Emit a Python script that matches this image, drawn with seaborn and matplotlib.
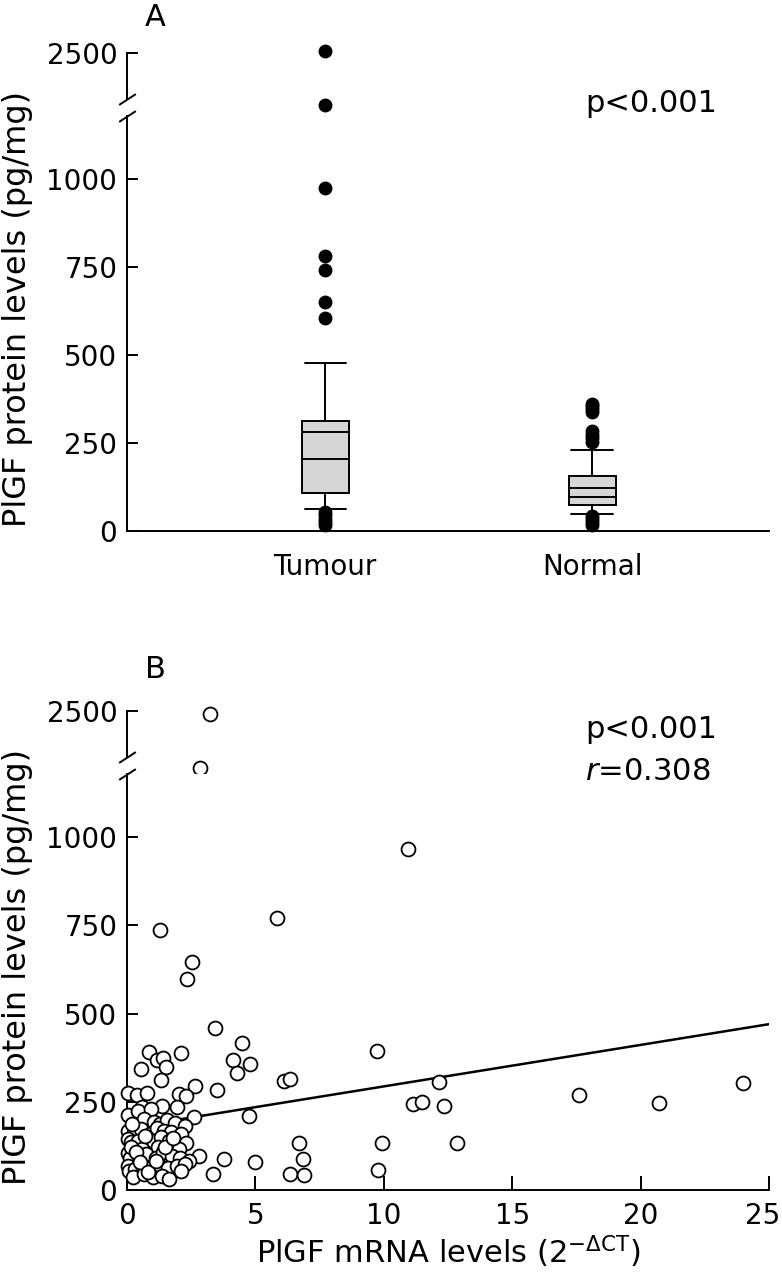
import numpy as np
import matplotlib.pyplot as plt
import matplotlib.transforms as mtransforms
import seaborn as sns

# ---- data ----
groups = ["Tumour", "Normal"]
box_q1 = [108, 74]
box_q3 = [312, 156]
box_med = [205, 97]
box_mean = [281, 122]
whisk_lo = [62, 48]
whisk_hi = [477, 230]
fliers_tumour = [2520, 2030, 974, 781, 741, 650, 605, 55, 45, 35, 25, 18]
fliers_normal = [362, 355, 347, 339, 283, 273, 263, 254, 42, 33, 25, 18]

mrna = [3.24, 2.85, 10.94, 1.29, 5.86, 2.54, 2.34, 3.44, 4.49, 4.14, 4.80, 4.30,
        0.86, 1.17, 1.41, 1.52, 0.55, 2.11, 1.33, 6.13, 6.33, 3.52, 2.66, 2.03,
        2.30, 0.02, 0.39, 0.78, 0.59, 1.37, 1.95, 0.05, 2.62, 4.77, 12.15, 11.13,
        11.48, 12.34, 9.73, 6.68, 6.84, 6.33, 6.91, 9.92, 9.77, 12.85, 5.00, 3.79,
        3.36, 2.81, 17.6, 20.7, 24.0,
        0.44, 0.93, 0.66, 1.05, 1.27, 1.57, 1.86, 2.25,
        0.03, 0.27, 0.55, 0.88, 1.18, 1.44, 1.72, 2.09,
        0.02, 0.14, 0.42, 0.79, 1.01, 1.33, 1.63, 1.92, 2.29, 0.59, 1.20, 2.03,
        0.03, 0.10, 0.46, 0.75, 1.11, 1.40, 1.76, 2.05, 2.42,
        0.02, 0.07, 0.33, 0.62, 0.98, 1.27, 1.59, 1.96, 2.25, 0.24, 0.66, 1.01, 1.37,
        0.16, 0.36, 0.50, 0.21, 0.82, 1.14, 1.49, 1.81, 2.12, 0.70, 1.62]
protein = [2473, 1987, 966, 737, 771, 646, 598, 459, 416, 368, 357, 331,
           391, 368, 374, 348, 343, 388, 312, 309, 314, 283, 295, 272,
           266, 275, 269, 275, 235, 238, 235, 212, 207, 210, 306, 244,
           249, 238, 394, 133, 88, 45, 42, 133, 57, 133, 79, 88,
           45, 96, 270, 246, 303,
           224, 229, 200, 192, 186, 197, 191, 181,
           168, 162, 173, 160, 177, 168, 163, 158,
           144, 135, 140, 130, 139, 149, 140, 129, 134, 116, 121, 115,
           106, 92, 97, 101, 91, 107, 96, 92, 82,
           68, 55, 59, 63, 64, 69, 63, 67, 74, 36, 44, 36, 40,
           121, 109, 80, 187, 52, 81, 123, 146, 54, 152, 30]

fit_x = [0, 25]
fit_y = [176, 470]

# ---- style ----
sns.set_style("ticks", {"axes.edgecolor": "black", "text.color": "black",
                        "xtick.color": "black", "ytick.color": "black",
                        "axes.labelcolor": "black"})
plt.rcParams["font.family"] = ["DejaVu Sans"]
plt.rcParams["mathtext.fontset"] = "dejavusans"
plt.rcParams["axes.linewidth"] = 1.4
FS = 20

W, H = 782, 1280
fig = plt.figure(figsize=(W / 100, H / 100), dpi=100)


def px_axes(left, top, right, bottom):
    return fig.add_axes([left / W, 1 - bottom / H, (right - left) / W, (bottom - top) / H])


LO_TOP = 1179          # top of lower segment
UP_LIM = (1933, 2662)  # compressed upper segment
UP_SPINE = (2086, 2500)
brk = dict(marker=[(-1, -0.65), (1, 0.65)], markersize=12, linestyle="none",
           color="black", mec="black", mew=1.4, clip_on=False)


def style_pair(ax_up, ax_lo):
    for ax in (ax_up, ax_lo):
        sns.despine(ax=ax)
        ax.tick_params(axis="y", direction="in", length=8, width=1.4, labelsize=FS, pad=7)
    ax_up.spines["bottom"].set_visible(False)
    ax_up.set_xticks([])
    ax_up.set_ylim(*UP_LIM)
    ax_up.set_yticks([2500])
    ax_up.spines["left"].set_bounds(*UP_SPINE)
    ax_lo.set_ylim(0, LO_TOP)
    ax_lo.set_yticks([0, 250, 500, 750, 1000])
    ax_lo.plot([0], [1], transform=ax_lo.transAxes, **brk)
    ax_up.plot([0], [UP_SPINE[0]], transform=ax_up.get_yaxis_transform(), **brk)
    ax_lo.set_ylabel("PlGF protein levels (pg/mg)", fontsize=23)
    ax_lo.yaxis.set_label_coords(-0.146, 0.535)


# ---- panel A ----
axA_up = px_axes(127, 35, 769, 116)
axA = px_axes(127, 116, 769, 531)
style_pair(axA_up, axA)

stats = []
for i, g in enumerate(groups):
    stats.append(dict(label=g, q1=box_q1[i], q3=box_q3[i], med=box_med[i],
                      mean=box_mean[i], whislo=whisk_lo[i], whishi=whisk_hi[i],
                      fliers=[]))
lw = 1.4
axA.bxp(stats, positions=[0, 1], widths=0.176, capwidths=0.154, showmeans=True,
        meanline=True, patch_artist=True, showfliers=False,
        boxprops=dict(facecolor="#d6d6d6", edgecolor="black", linewidth=lw),
        medianprops=dict(color="black", linewidth=lw),
        meanprops=dict(color="black", linestyle="-", linewidth=lw),
        whiskerprops=dict(color="black", linewidth=lw),
        capprops=dict(color="black", linewidth=lw))

fl_x = np.array([0] * len(fliers_tumour) + [1] * len(fliers_normal))
fl_y = np.array(fliers_tumour + fliers_normal)
hi = fl_y > LO_TOP
sns.scatterplot(x=fl_x[~hi], y=fl_y[~hi], ax=axA, color="black", s=100,
                edgecolor="black", linewidth=0, zorder=4, clip_on=False)
sns.scatterplot(x=fl_x[hi], y=fl_y[hi], ax=axA_up, color="black", s=100,
                edgecolor="black", linewidth=0, zorder=4, clip_on=False)

xlimA = (-0.742, 1.663)
axA.set_xlim(*xlimA)
axA_up.set_xlim(*xlimA)
axA.set_xticks([0, 1])
axA.set_xticklabels(groups)
axA.tick_params(axis="x", length=0, labelsize=FS, pad=16)

# ---- panel B ----
axB_up = px_axes(127, 693, 769, 774)
axB = px_axes(127, 774, 769, 1190)
style_pair(axB_up, axB)

mx = np.array(mrna)
py = np.array(protein)
up = py > LO_TOP
sns.lineplot(x=fit_x, y=fit_y, ax=axB, color="black", linewidth=1.8, zorder=2)
sc = dict(marker="o", s=100, facecolor="white", edgecolor="black", linewidth=1.3,
          zorder=3, clip_on=False)
sns.scatterplot(x=mx[~up], y=py[~up], ax=axB, **sc)
sns.scatterplot(x=mx[up], y=py[up], ax=axB_up, **sc)

axB.set_xlim(0, 25)
axB_up.set_xlim(0, 25)
axB.set_xticks([0, 5, 10, 15, 20, 25])
axB.tick_params(axis="x", direction="in", length=10, width=1.4, labelsize=FS, pad=9)
# last label sits against the figure edge, nudge it left a little
last = axB.get_xticklabels()[-1]
last.set_transform(last.get_transform() +
                   mtransforms.ScaledTranslation(-6 / 100, 0, fig.dpi_scale_trans))
axB.set_xlabel(r"PlGF mRNA levels (2$^{-\Delta\mathrm{CT}}$)", fontsize=22)
axB.xaxis.set_label_coords(0.5, -0.105)

# ---- annotations ----
fig.text(155 / W, 1 - 17 / H, "A", ha="center", va="center", fontsize=22)
fig.text(155 / W, 1 - 669 / H, "B", ha="center", va="center", fontsize=22)
fig.text(585 / W, 1 - 103 / H, "p<0.001", ha="left", va="center", fontsize=22)
fig.text(585 / W, 1 - 730 / H, "p<0.001", ha="left", va="center", fontsize=22)
fig.text(585 / W, 1 - 772 / H, r"$r$=0.308", ha="left", va="center", fontsize=22)

fig.savefig("out.png", dpi=100)
